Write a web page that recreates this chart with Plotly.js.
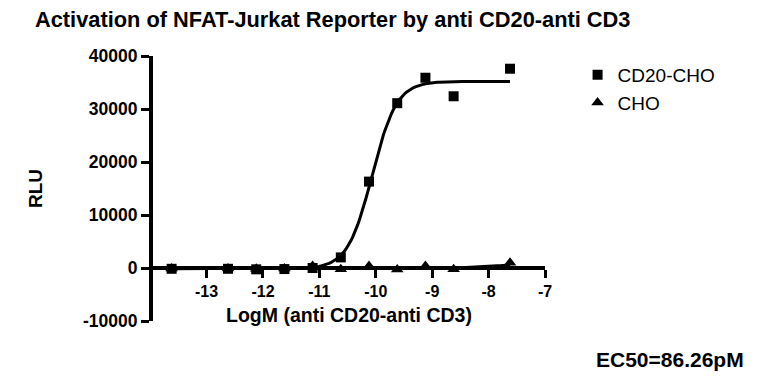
<!DOCTYPE html>
<html>
<head>
<meta charset="utf-8">
<script src="https://cdn.plot.ly/plotly-3.0.1.min.js"></script>
<style>html,body{margin:0;padding:0;background:#fff;}#chart{width:774px;height:391px;}</style>
</head>
<body>
<div id="chart"></div>
<script>
// ---- data ----
const logConcCD20 = [-13.62, -12.62, -12.12, -11.62, -11.12, -10.62, -10.12, -9.62, -9.12, -8.62, -7.62];
const rluCD20     = [-150, -150, -250, -200, 0, 2000, 16300, 31100, 35900, 32400, 37600];
const logConcCHO  = [-13.62, -12.62, -12.12, -11.62, -11.12, -10.62, -10.12, -9.62, -9.12, -8.62, -7.62];
const rluCHO      = [-100, -100, -150, -100, 400, -250, 400, -300, 400, -250, 1000];

// 4-parameter logistic fit parameters (EC50 = 86.26 pM)
const fitCD20 = {bottom: -150, top: 35200, logEC50: Math.log10(86.26e-12), hill: 2.0};
const fitCHO  = {bottom: -50, top: 2000, logEC50: -7.3, hill: 1.0};
const fitRange = [-13.62, -7.62];

const xTickVals = [-13, -12, -11, -10, -9, -8, -7];
const xTickText = ["-13", "-12", "-11", "-10", "-9", "-8", "-7"];
const yTickVals = [-10000, 0, 10000, 20000, 30000, 40000];
const yTickText = ["-10000", "0", "10000", "20000", "30000", "40000"];

const seriesNames = ["CD20-CHO", "CHO"];
const chartTitle = "Activation of NFAT-Jurkat Reporter by anti CD20-anti CD3";
const xTitle = "LogM (anti CD20-anti CD3)";
const yTitle = "RLU";
const ec50Text = "EC50=86.26pM";

// ---- build fit curves ----
function curve(p) {
  const xs = [], ys = [];
  const n = 200;
  for (let i = 0; i <= n; i++) {
    const x = fitRange[0] + (fitRange[1] - fitRange[0]) * i / n;
    xs.push(x);
    ys.push(p.bottom + (p.top - p.bottom) / (1 + Math.pow(10, (p.logEC50 - x) * p.hill)));
  }
  return {xs, ys};
}
const c1 = curve(fitCD20), c2 = curve(fitCHO);

const FONT = '"Liberation Sans", Arial, sans-serif';

const traces = [
  {x: c1.xs, y: c1.ys, mode: 'lines', line: {color: '#000', width: 3}, showlegend: false, hoverinfo: 'skip'},
  {x: c2.xs, y: c2.ys, mode: 'lines', line: {color: '#000', width: 3}, showlegend: false, hoverinfo: 'skip'},
  {x: logConcCD20, y: rluCD20, mode: 'markers', name: seriesNames[0],
   marker: {symbol: 'square', size: 10, color: '#000'}, cliponaxis: false},
  {x: logConcCHO, y: rluCHO, mode: 'markers', name: seriesNames[1],
   marker: {symbol: 'triangle-up', size: 11, color: '#000'}, cliponaxis: false}
];

const layout = {
  width: 774, height: 391,
  margin: {l: 153, r: 228.6, t: 56, b: 70},
  paper_bgcolor: '#fff', plot_bgcolor: '#fff',
  font: {family: FONT, color: '#000'},
  title: {text: chartTitle, font: {family: FONT, size: 21.8, weight: 'bold', color: '#000'},
          xref: 'container', yref: 'container', x: 35/774, xanchor: 'left', y: 1 - 19/391, yanchor: 'middle'},
  xaxis: {
    range: [-13.95, -7], anchor: 'free', position: 0.2,
    showline: true, linewidth: 4, linecolor: '#000',
    ticks: 'outside', ticklen: 8, tickwidth: 3, tickcolor: '#000',
    tickvals: xTickVals, ticktext: xTickText,
    tickfont: {family: FONT, size: 16, weight: 'bold', color: '#000'},
    showgrid: false, zeroline: false,
    title: {text: xTitle, font: {family: FONT, size: 19.5, weight: 'bold', color: '#000'}, standoff: 8}
  },
  yaxis: {
    range: [-10000, 40000],
    showline: true, linewidth: 4, linecolor: '#000',
    ticks: 'outside', ticklen: 8, tickwidth: 3, tickcolor: '#000',
    tickvals: yTickVals, ticktext: yTickText,
    tickfont: {family: FONT, size: 17.5, weight: 'bold', color: '#000'},
    showgrid: false, zeroline: false,
    title: {text: yTitle, font: {family: FONT, size: 19, weight: 'bold', color: '#000'}, standoff: 36}
  },
  legend: {
    x: (578 - 153) / 392.4, xanchor: 'left', y: 1, yanchor: 'top',
    font: {family: FONT, size: 19, color: '#000'},
    bgcolor: 'rgba(0,0,0,0)', borderwidth: 0
  },
  annotations: [
    {text: ec50Text, xref: 'paper', yref: 'paper', x: (594 - 153) / 392.4, xanchor: 'left',
     y: -(359 - 321) / 265, yanchor: 'middle', showarrow: false,
     font: {family: FONT, size: 21, weight: 'bold', color: '#000'}}
  ]
};

Plotly.newPlot('chart', traces, layout, {staticPlot: true, displayModeBar: false});
</script>
</body>
</html>
